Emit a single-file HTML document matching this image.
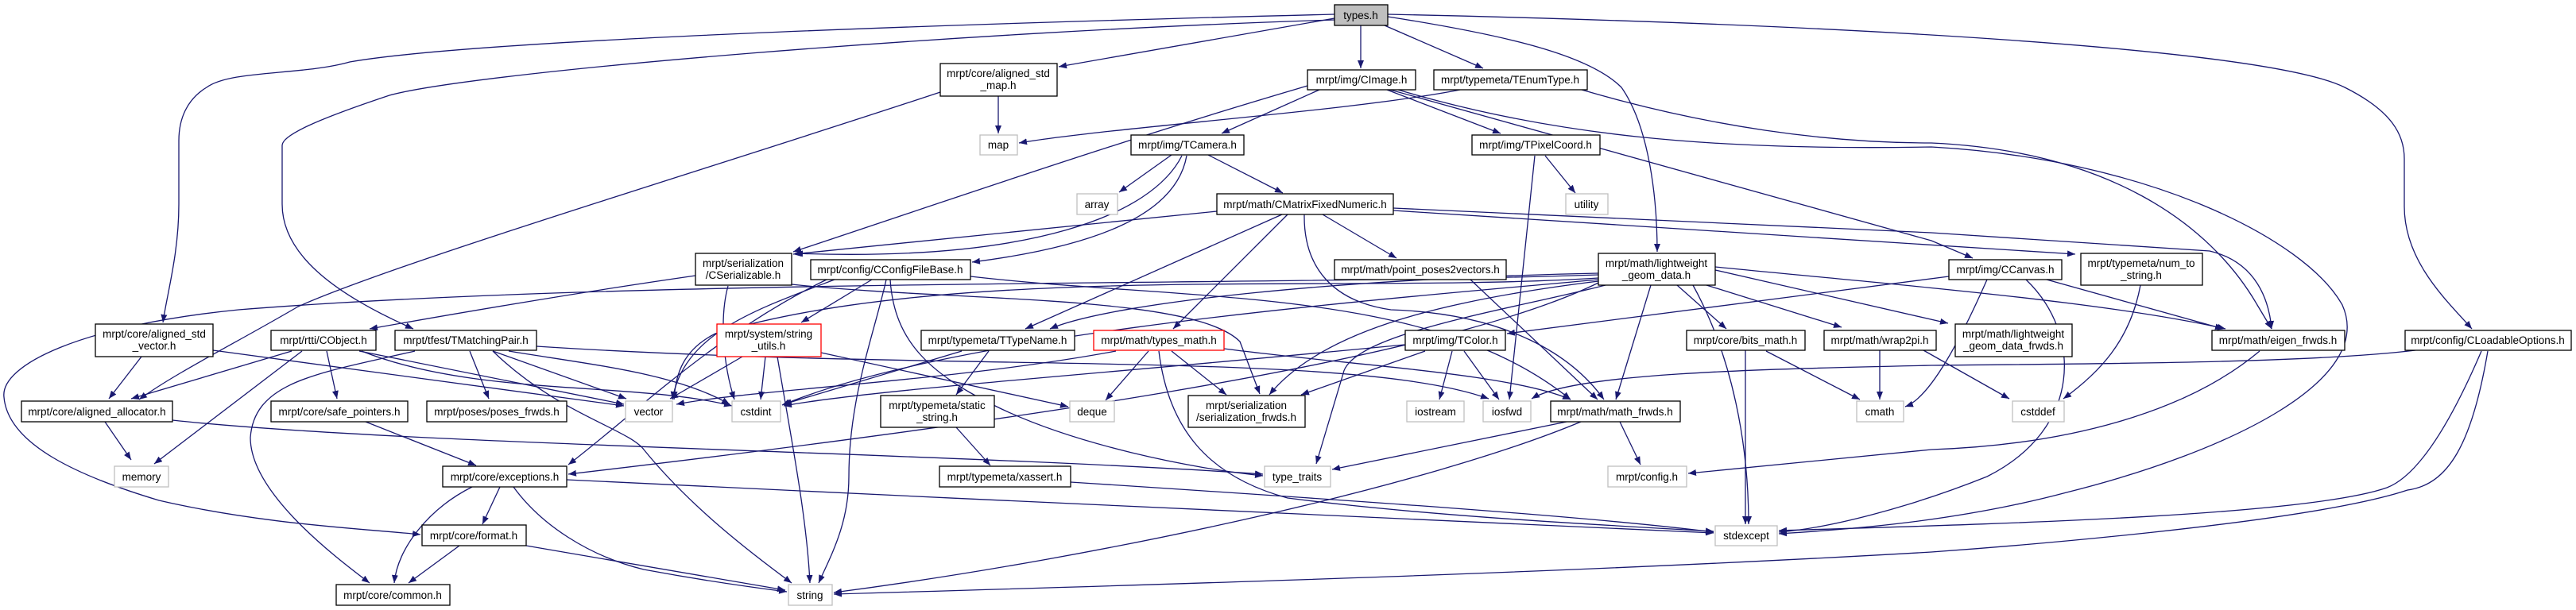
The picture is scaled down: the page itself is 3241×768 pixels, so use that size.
<!DOCTYPE html>
<html><head><meta charset="utf-8"><style>
html,body{margin:0;padding:0;background:#fff;}
svg{display:block;}
text{font-family:"Liberation Sans",Arial,sans-serif;font-size:13.5px;fill:#000;text-anchor:middle;}
.e{fill:none;stroke:#191970;stroke-width:1.3;marker-end:url(#a);}
.n{fill:#fff;stroke:#000;stroke-width:1.3;}
.g{fill:#fff;stroke:#bfbfbf;stroke-width:1.3;}
.r{fill:#fff;stroke:#ff0000;stroke-width:1.3;}
</style></head><body>
<svg width="3241" height="768" viewBox="0 0 3241 768" xmlns="http://www.w3.org/2000/svg">
<defs><marker id="a" markerUnits="userSpaceOnUse" markerWidth="11" markerHeight="8" refX="10" refY="4" orient="auto"><path d="M0,0 L10,4 L0,8 z" fill="#191970"/></marker></defs>
<g>
<!-- types.h -->
<path class="e" d="M1712,32 L1712,86"/>
<path class="e" d="M1742,32 L1866,86"/>
<path class="e" d="M1746,21 C1900,45 2000,70 2040,110 C2075,160 2085,250 2085,317"/>
<path class="e" d="M1679,23 L1332,84"/>
<path class="e" d="M1746,18 C2300,30 2850,60 2950,110 C3010,140 3025,170 3025,200 L3025,260 C3025,330 3080,380 3110,414"/>
<path class="e" d="M1679,18 C1200,30 600,50 440,78 C380,95 290,88 260,110 C235,125 225,150 225,177 L225,257 C225,320 210,370 205,406"/>
<path class="e" d="M1679,25 C1200,40 600,90 490,120 C400,150 355,170 355,183 L355,257 C355,320 420,370 520,414"/>
<!-- aligned_std_map -->
<path class="e" d="M1256,121 L1256,168"/>
<path class="e" d="M1183,116 C900,210 500,330 375,386 C300,430 220,470 175,503"/>
<!-- CImage -->
<path class="e" d="M1660,113 L1537,168"/>
<path class="e" d="M1645,108 C1400,180 1200,250 998,317"/>
<path class="e" d="M1745,113 L1888,168"/>
<path class="e" d="M1749,113 L2430,303 L2482,325"/>
<path class="e" d="M1759,113 C1950,170 2150,190 2430,185 C2700,200 2900,300 2947,384 C2990,480 2800,570 2600,620 C2450,660 2300,668 2238,672"/>
<!-- TEnumType -->
<path class="e" d="M1837,113 C1700,140 1400,160 1282,180"/>
<path class="e" d="M1990,113 C2150,160 2300,180 2430,180 C2650,190 2780,280 2840,384 L2858,414"/>
<!-- TCamera -->
<path class="e" d="M1474,195 L1408,242"/>
<path class="e" d="M1520,195 L1614,243"/>
<path class="e" d="M1487,196 C1450,270 1300,330 1000,319"/>
<path class="e" d="M1493,196 C1480,270 1380,310 1223,330"/>
<!-- CMatrixFixedNumeric -->
<path class="e" d="M1531,266 L998,320"/>
<path class="e" d="M1613,270 L1290,414"/>
<path class="e" d="M1620,270 L1476,414"/>
<path class="e" d="M1641,270 C1640,340 1680,380 1750,390 C1900,395 1980,450 2018,503"/>
<path class="e" d="M1664,270 L1757,325"/>
<path class="e" d="M1753,262 L2430,293 L2780,316 C2840,330 2855,380 2858,414"/>
<path class="e" d="M1753,265 L2611,320"/>
<!-- TPixelCoord -->
<path class="e" d="M1944,196 L1982,243"/>
<path class="e" d="M1931,196 L1899,503"/>
<!-- CSerializable -->
<path class="e" d="M875,347 C750,365 600,390 465,414"/>
<path class="e" d="M916,360 C905,400 910,460 924,503"/>
<path class="e" d="M996,358 C1200,380 1500,370 1560,430 L1585,496"/>
<!-- CConfigFileBase -->
<path class="e" d="M1050,352 C950,390 860,420 846,503"/>
<path class="e" d="M1097,352 L1008,406"/>
<path class="e" d="M1115,352 C1100,420 1068,500 1068,600 C1068,660 1045,700 1030,734"/>
<path class="e" d="M1120,352 C1125,430 1170,470 1250,510 C1350,560 1500,590 1589,599"/>
<path class="e" d="M1221,348 C1500,380 1800,360 1976,503"/>
<path class="e" d="M1040,352 C900,420 800,520 715,585"/>
<!-- point_poses2vectors -->
<path class="e" d="M1850,352 L2010,503"/>
<!-- lightweight -->
<path class="e" d="M2011,346 C1600,360 800,350 300,390 C100,410 0,460 5,500 C10,560 100,600 200,630 C330,660 450,665 529,673"/>
<path class="e" d="M2011,350 C1700,370 1200,330 900,420 C860,440 850,470 848,503"/>
<path class="e" d="M2011,352 C1700,380 1200,420 984,510"/>
<path class="e" d="M2011,344 C1700,350 1400,380 1321,414"/>
<path class="e" d="M2011,354 C1800,380 1660,420 1597,497"/>
<path class="e" d="M2020,359 C1900,390 1700,420 1690,470 L1656,584"/>
<path class="e" d="M2011,356 C1800,460 1200,540 715,597"/>
<path class="e" d="M2077,359 L2033,503"/>
<path class="e" d="M2110,359 L2172,414"/>
<path class="e" d="M2147,359 L2317,412"/>
<path class="e" d="M2158,340 L2451,407"/>
<path class="e" d="M2158,336 C2400,360 2650,380 2800,414"/>
<path class="e" d="M2130,359 C2180,450 2200,560 2200,660"/>
<!-- CCanvas -->
<path class="e" d="M2452,348 L1896,420"/>
<path class="e" d="M2549,352 C2620,420 2620,540 2500,600 C2400,640 2300,665 2238,670"/>
<path class="e" d="M2575,352 L2797,414"/>
<path class="e" d="M2500,352 C2470,420 2430,500 2397,512"/>
<!-- num_to_string -->
<path class="e" d="M2693,359 C2680,430 2640,470 2596,502"/>
<!-- aligned_std_vector -->
<path class="e" d="M178,449 L137,502"/>
<path class="e" d="M268,441 L785,511"/>
<!-- CObject -->
<path class="e" d="M367,442 L165,502"/>
<path class="e" d="M380,442 L194,584"/>
<path class="e" d="M411,442 L424,502"/>
<path class="e" d="M452,442 L785,509"/>
<path class="e" d="M455,442 C600,500 800,480 921,511"/>
<!-- TMatchingPair -->
<path class="e" d="M522,442 C400,470 320,480 315,551 C315,620 420,700 465,734"/>
<path class="e" d="M591,442 L615,502"/>
<path class="e" d="M620,442 L788,502"/>
<path class="e" d="M620,442 C700,520 790,540 810,566 C870,640 950,700 996,734"/>
<path class="e" d="M675,436 C1200,470 1700,440 1873,502"/>
<path class="e" d="M640,442 C750,460 850,470 918,509"/>
<!-- aligned_allocator -->
<path class="e" d="M132,531 L165,579"/>
<path class="e" d="M217,529 C500,560 1200,570 1589,597"/>
<!-- safe_pointers -->
<path class="e" d="M460,531 L599,586"/>
<!-- exceptions -->
<path class="e" d="M629,613 L607,660"/>
<path class="e" d="M594,613 C540,640 500,690 496,734"/>
<path class="e" d="M646,613 C680,660 740,700 810,717 C880,730 950,740 990,745"/>
<path class="e" d="M713,604 C1200,630 1800,650 2156,671"/>
<!-- format -->
<path class="e" d="M578,687 L514,734"/>
<path class="e" d="M662,687 L988,743"/>
<!-- string_utils -->
<path class="e" d="M934,449 L843,502"/>
<path class="e" d="M963,449 L957,503"/>
<path class="e" d="M978,449 C995,550 1015,650 1019,734"/>
<path class="e" d="M1033,444 L1344,512"/>
<!-- TTypeName -->
<path class="e" d="M1210,442 L986,509"/>
<path class="e" d="M1244,442 L1203,497"/>
<path class="e" d="M1203,538 L1246,586"/>
<path class="e" d="M1347,607 C1700,630 2000,650 2156,670"/>
<!-- types_math -->
<path class="e" d="M1445,442 L1391,504"/>
<path class="e" d="M1474,442 L1543,497"/>
<path class="e" d="M1404,442 C1200,480 950,490 851,509"/>
<path class="e" d="M1458,442 C1470,540 1520,600 1620,627 C1800,650 2000,660 2156,669"/>
<path class="e" d="M1540,439 C1700,460 1900,470 1976,503"/>
<!-- TColor -->
<path class="e" d="M1827,442 L1811,503"/>
<path class="e" d="M1842,442 L1886,503"/>
<path class="e" d="M1767,434 C1400,470 1100,490 986,511"/>
<path class="e" d="M1793,442 L1637,497"/>
<!-- bits_math, wrap2pi -->
<path class="e" d="M2196,441 L2196,660"/>
<path class="e" d="M2222,442 L2340,503"/>
<path class="e" d="M2365,441 L2365,503"/>
<path class="e" d="M2420,441 L2528,502"/>
<!-- math_frwds -->
<path class="e" d="M2038,531 L2064,585"/>
<path class="e" d="M1971,531 L1676,591"/>
<path class="e" d="M1989,531 C1800,610 1400,700 1049,746"/>
<!-- eigen_frwds -->
<path class="e" d="M2843,442 C2750,520 2600,560 2430,566 L2124,596"/>
<!-- CLoadableOptions -->
<path class="e" d="M3039,441 C2900,458 2600,458 2430,460 C2200,465 1980,470 1927,502"/>
<path class="e" d="M3122,442 C3080,540 3040,600 3003,614 C2900,650 2500,660 2238,668"/>
<path class="e" d="M3130,442 C3110,560 3080,610 3029,617 C2900,660 2500,690 2430,695 C2000,720 1500,735 1049,748"/>
</g>
<g>
<rect x="1679" y="6" width="67" height="26" fill="#bfbfbf" stroke="#000" stroke-width="1.3"/><text x="1712" y="24">types.h</text>
<rect class="n" x="1645" y="88" width="136" height="25"/><text x="1713" y="105">mrpt/img/CImage.h</text>
<rect class="n" x="1804" y="88" width="193" height="25"/><text x="1900" y="105">mrpt/typemeta/TEnumType.h</text>
<rect class="n" x="1183" y="80" width="147" height="41"/><text x="1256" y="97">mrpt/core/aligned_std</text><text x="1256" y="112">_map.h</text>
<rect class="g" x="1233" y="170" width="47" height="25"/><text x="1256" y="187">map</text>
<rect class="n" x="1423" y="170" width="142" height="25"/><text x="1494" y="187">mrpt/img/TCamera.h</text>
<rect class="n" x="1852" y="170" width="161" height="25"/><text x="1932" y="187">mrpt/img/TPixelCoord.h</text>
<rect class="g" x="1355" y="244" width="51" height="26"/><text x="1380" y="262">array</text>
<rect class="n" x="1531" y="244" width="222" height="26"/><text x="1642" y="262">mrpt/math/CMatrixFixedNumeric.h</text>
<rect class="g" x="1970" y="244" width="53" height="26"/><text x="1996" y="262">utility</text>
<rect class="n" x="875" y="319" width="121" height="40"/><text x="935" y="336">mrpt/serialization</text><text x="935" y="351">/CSerializable.h</text>
<rect class="n" x="1020" y="327" width="201" height="25"/><text x="1120" y="344">mrpt/config/CConfigFileBase.h</text>
<rect class="n" x="1679" y="327" width="216" height="25"/><text x="1787" y="344">mrpt/math/point_poses2vectors.h</text>
<rect class="n" x="2011" y="319" width="147" height="40"/><text x="2084" y="336">mrpt/math/lightweight</text><text x="2084" y="351">_geom_data.h</text>
<rect class="n" x="2452" y="327" width="142" height="25"/><text x="2523" y="344">mrpt/img/CCanvas.h</text>
<rect class="n" x="2618" y="319" width="153" height="40"/><text x="2694" y="336">mrpt/typemeta/num_to</text><text x="2694" y="351">_string.h</text>
<rect class="n" x="120" y="408" width="148" height="41"/><text x="194" y="425">mrpt/core/aligned_std</text><text x="194" y="440">_vector.h</text>
<rect class="r" x="902" y="408" width="131" height="41"/><text x="967" y="425">mrpt/system/string</text><text x="967" y="440">_utils.h</text>
<rect class="n" x="2460" y="408" width="147" height="41"/><text x="2533" y="425">mrpt/math/lightweight</text><text x="2533" y="440">_geom_data_frwds.h</text>
<rect class="n" x="341" y="416" width="132" height="25"/><text x="407" y="433">mrpt/rtti/CObject.h</text>
<rect class="n" x="497" y="416" width="178" height="25"/><text x="586" y="433">mrpt/tfest/TMatchingPair.h</text>
<rect class="n" x="1159" y="416" width="193" height="25"/><text x="1255" y="433">mrpt/typemeta/TTypeName.h</text>
<rect class="r" x="1376" y="416" width="164" height="25"/><text x="1458" y="433">mrpt/math/types_math.h</text>
<rect class="n" x="1768" y="416" width="126" height="25"/><text x="1831" y="433">mrpt/img/TColor.h</text>
<rect class="n" x="2122" y="416" width="149" height="25"/><text x="2196" y="433">mrpt/core/bits_math.h</text>
<rect class="n" x="2295" y="416" width="141" height="25"/><text x="2365" y="433">mrpt/math/wrap2pi.h</text>
<rect class="n" x="2783" y="416" width="167" height="25"/><text x="2866" y="433">mrpt/math/eigen_frwds.h</text>
<rect class="n" x="3026" y="416" width="209" height="25"/><text x="3130" y="433">mrpt/config/CLoadableOptions.h</text>
<rect class="n" x="1108" y="498" width="143" height="40"/><text x="1179" y="515">mrpt/typemeta/static</text><text x="1179" y="530">_string.h</text>
<rect class="n" x="1495" y="498" width="147" height="40"/><text x="1568" y="515">mrpt/serialization</text><text x="1568" y="530">/serialization_frwds.h</text>
<rect class="n" x="27" y="505" width="190" height="26"/><text x="122" y="523">mrpt/core/aligned_allocator.h</text>
<rect class="n" x="341" y="505" width="172" height="26"/><text x="427" y="523">mrpt/core/safe_pointers.h</text>
<rect class="n" x="537" y="505" width="176" height="26"/><text x="625" y="523">mrpt/poses/poses_frwds.h</text>
<rect class="g" x="787" y="505" width="59" height="26"/><text x="816" y="523">vector</text>
<rect class="g" x="921" y="505" width="61" height="26"/><text x="951" y="523">cstdint</text>
<rect class="g" x="1346" y="505" width="56" height="26"/><text x="1374" y="523">deque</text>
<rect class="g" x="1770" y="505" width="72" height="26"/><text x="1806" y="523">iostream</text>
<rect class="g" x="1866" y="505" width="60" height="26"/><text x="1896" y="523">iosfwd</text>
<rect class="n" x="1951" y="505" width="163" height="26"/><text x="2032" y="523">mrpt/math/math_frwds.h</text>
<rect class="g" x="2336" y="505" width="59" height="26"/><text x="2365" y="523">cmath</text>
<rect class="g" x="2532" y="505" width="65" height="26"/><text x="2564" y="523">cstddef</text>
<rect class="g" x="144" y="587" width="68" height="26"/><text x="178" y="605">memory</text>
<rect class="n" x="557" y="587" width="156" height="26"/><text x="635" y="605">mrpt/core/exceptions.h</text>
<rect class="n" x="1182" y="587" width="165" height="26"/><text x="1264" y="605">mrpt/typemeta/xassert.h</text>
<rect class="g" x="1591" y="587" width="83" height="26"/><text x="1632" y="605">type_traits</text>
<rect class="g" x="2023" y="587" width="99" height="26"/><text x="2072" y="605">mrpt/config.h</text>
<rect class="n" x="531" y="661" width="131" height="26"/><text x="596" y="679">mrpt/core/format.h</text>
<rect class="g" x="2158" y="662" width="78" height="25"/><text x="2197" y="679">stdexcept</text>
<rect class="n" x="423" y="736" width="143" height="26"/><text x="494" y="754">mrpt/core/common.h</text>
<rect class="g" x="992" y="736" width="55" height="26"/><text x="1019" y="754">string</text>
</g>
</svg>
</body></html>
